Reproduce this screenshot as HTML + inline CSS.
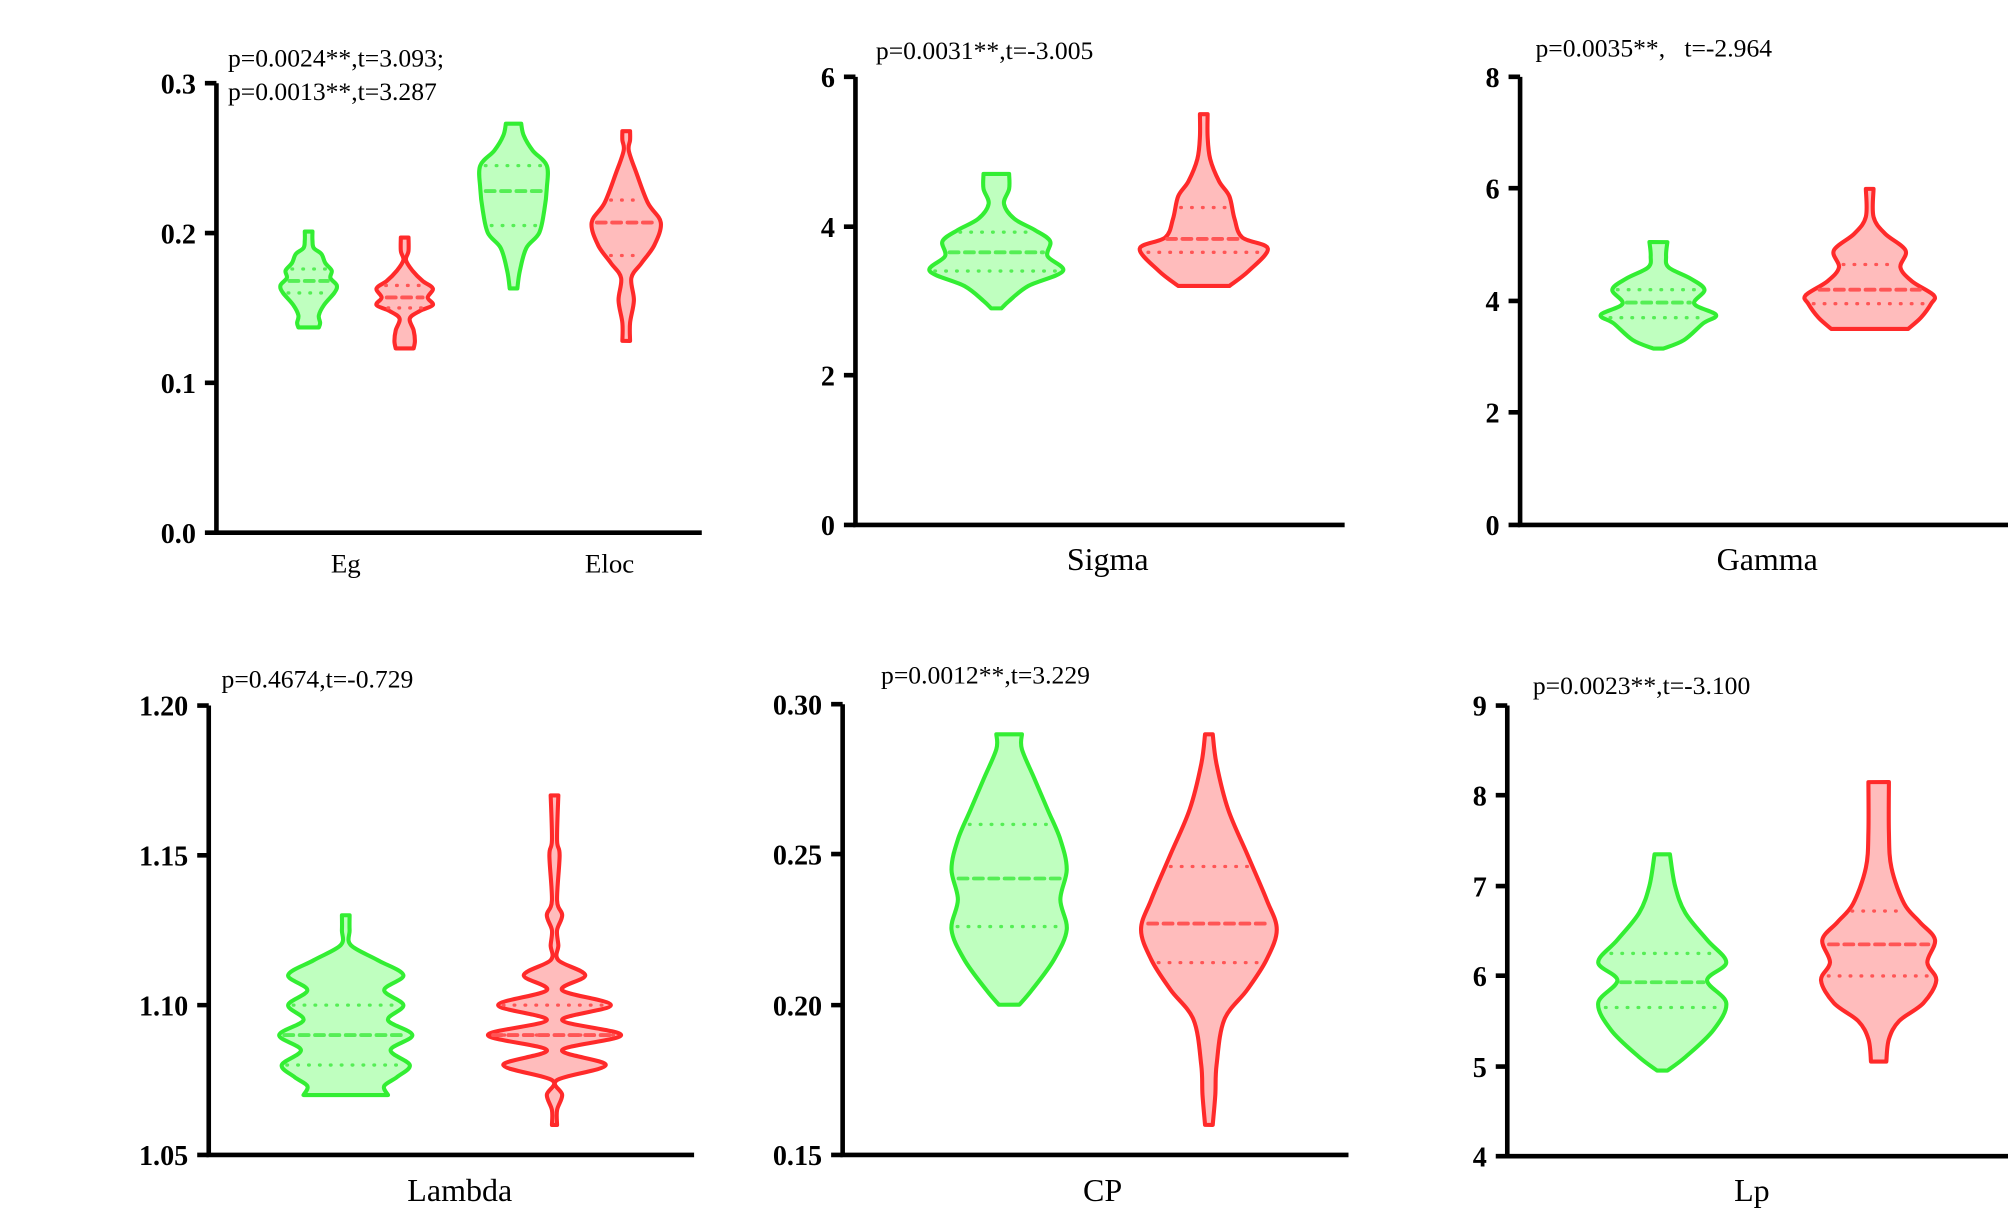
<!DOCTYPE html>
<html><head><meta charset="utf-8"><style>
html,body{margin:0;padding:0;background:#fff;}
svg{display:block;}
text{font-family:"Liberation Serif",serif;fill:#000;}
.tk{font-weight:bold;font-size:22px;}
.an{font-size:20px;}
.cat{font-size:25px;}
</style></head><body>
<svg id="s" width="2008" height="1210" viewBox="0 0 1568 945" preserveAspectRatio="none" xmlns="http://www.w3.org/2000/svg">
<g stroke="#000" stroke-width="3.6" fill="none">
<path d="M169 65 V416 H548"/><path d="M160 65H169M160 182H169M160 299H169M160 416H169"/>
<path d="M668 60 V410 H1050"/><path d="M659 60H668M659 177H668M659 293H668M659 410H668"/>
<path d="M1187 60 V410 H1568"/><path d="M1178 60H1187M1178 147H1187M1178 235H1187M1178 322H1187M1178 410H1187"/>
<path d="M163 551 V902 H542"/><path d="M154 551H163M154 668H163M154 785H163M154 902H163"/>
<path d="M658 550 V902 H1053"/><path d="M649 550H658M649 667H658M649 785H658M649 902H658"/>
<path d="M1177 551 V903 H1568"/><path d="M1168 551H1177M1168 621H1177M1168 692H1177M1168 762H1177M1168 833H1177M1168 903H1177"/>
</g>
<g class="tk" text-anchor="end">
<text x="153" y="73">0.3</text><text x="153" y="190">0.2</text><text x="153" y="307">0.1</text><text x="153" y="424">0.0</text>
<text x="652" y="68">6</text><text x="652" y="185">4</text><text x="652" y="301">2</text><text x="652" y="418">0</text>
<text x="1171" y="68">8</text><text x="1171" y="155">6</text><text x="1171" y="243">4</text><text x="1171" y="330">2</text><text x="1171" y="418">0</text>
<text x="147" y="559">1.20</text><text x="147" y="676">1.15</text><text x="147" y="793">1.10</text><text x="147" y="910">1.05</text>
<text x="642" y="558">0.30</text><text x="642" y="675">0.25</text><text x="642" y="793">0.20</text><text x="642" y="910">0.15</text>
<text x="1161" y="559">9</text><text x="1161" y="629">8</text><text x="1161" y="700">7</text><text x="1161" y="770">6</text><text x="1161" y="841">5</text><text x="1161" y="911">4</text>
</g>
<g class="an">
<text x="178" y="52">p=0.0024**,t=3.093;</text><text x="178" y="78">p=0.0013**,t=3.287</text>
<text x="684" y="46">p=0.0031**,t=-3.005</text>
<text x="1199" y="44" xml:space="preserve">p=0.0035**,   t=-2.964</text>
<text x="173" y="537">p=0.4674,t=-0.729</text>
<text x="688" y="534">p=0.0012**,t=3.229</text>
<text x="1197" y="542">p=0.0023**,t=-3.100</text>
</g>
<g class="cat" text-anchor="middle">
<text x="270" y="447" style="font-size:21px">Eg</text><text x="476" y="447" style="font-size:21px">Eloc</text>
<text x="865" y="445">Sigma</text><text x="1380" y="445">Gamma</text>
<text x="359" y="938">Lambda</text><text x="861" y="938">CP</text><text x="1368" y="938">Lp</text>
</g>
<g id="v"></g>
</svg>
<script>
var G={s:"#33ee33",f:"#bfffbf",l:"#55ee55"},R={s:"#ff2a2a",f:"#ffbcbc",l:"#ff5555"};
function V(cx,y0,y1,v0,v1,c,prof,q){
 var Y=function(v){return y0-(v-v0)/(v1-v0)*(y0-y1);};
 var pts=prof.map(function(p){return [Y(p[0]),p[1]];});
 function sm(side){var a=[];for(var i=0;i<pts.length;i++){a.push([cx+side*pts[i][1],pts[i][0]]);}return a;}
 function cr(a){var d="";for(var i=0;i<a.length-1;i++){var p0=a[i-1]||a[i],p1=a[i],p2=a[i+1],p3=a[i+2]||a[i+1];
  var c1=[p1[0]+(p2[0]-p0[0])/6,p1[1]+(p2[1]-p0[1])/6],c2=[p2[0]-(p3[0]-p1[0])/6,p2[1]-(p3[1]-p1[1])/6];
  d+=" C"+c1[0].toFixed(1)+" "+c1[1].toFixed(1)+" "+c2[0].toFixed(1)+" "+c2[1].toFixed(1)+" "+p2[0].toFixed(1)+" "+p2[1].toFixed(1);}return d;}
 var r=sm(1),l=sm(-1).reverse();
 var d="M"+r[0][0]+" "+r[0][1]+cr(r)+" L"+l[0][0]+" "+l[0][1]+cr(l)+" Z";
 function hw(v){for(var i=0;i<prof.length-1;i++){if(v>=prof[i][0]&&v<=prof[i+1][0]){var t=(v-prof[i][0])/(prof[i+1][0]-prof[i][0]);return prof[i][1]+t*(prof[i+1][1]-prof[i][1]);}}return 5;}
 var s='<path d="'+d+'" fill="'+c.f+'" stroke="'+c.s+'" stroke-width="3.2" stroke-linejoin="round"/>';
 q.forEach(function(v,i){var w=Math.max(hw(v)-4,2),y=Y(v);
  s+='<line x1="'+(cx-w)+'" x2="'+(cx+w)+'" y1="'+y+'" y2="'+y+'" stroke="'+c.l+'" stroke-width="'+(i==1?3:2.6)+'" stroke-dasharray="'+(i==1?'7 5':'0.5 8')+'" stroke-linecap="round"/>';});
 return s;}
var h="";
h+=V(241,416,65,0,0.3,G,[[0.137,8],[0.140,9],[0.145,8],[0.152,12],[0.160,20],[0.165,22],[0.170,17],[0.175,18],[0.180,13],[0.186,10],[0.190,4],[0.195,3],[0.201,3]],[0.16,0.168,0.176]);
h+=V(316,416,65,0,0.3,R,[[0.123,7],[0.128,8],[0.135,7],[0.143,4],[0.148,12],[0.152,22],[0.157,18],[0.163,22],[0.168,14],[0.175,6],[0.182,1],[0.188,3],[0.197,3]],[0.150,0.157,0.165]);
h+=V(401,416,65,0,0.3,G,[[0.163,3],[0.175,5],[0.19,10],[0.2,20],[0.215,24],[0.23,26],[0.245,26],[0.255,15],[0.265,8],[0.273,6]],[0.205,0.228,0.245]);
h+=V(489,416,65,0,0.3,R,[[0.128,3],[0.14,3],[0.155,6],[0.17,4],[0.18,12],[0.192,22],[0.207,27],[0.22,17],[0.24,8],[0.255,2],[0.262,3],[0.268,3]],[0.185,0.207,0.222]);
h+=V(778,410,60,0,6,G,[[2.9,4],[3.0,10],[3.2,25],[3.4,52],[3.6,40],[3.8,42],[3.95,30],[4.1,14],[4.3,6],[4.5,10],[4.7,10]],[3.4,3.65,3.92]);
h+=V(940,410,60,0,6,R,[[3.2,20],[3.4,35],[3.7,50],[3.85,30],[4.1,24],[4.4,20],[4.6,12],[4.9,5],[5.2,3],[5.5,3]],[3.65,3.83,4.25]);
h+=V(1295,410,60,0,8,G,[[3.15,4],[3.3,20],[3.6,35],[3.75,45],[3.95,28],[4.2,36],[4.4,25],[4.6,8],[4.8,6],[5.05,7]],[3.7,3.97,4.2]);
h+=V(1460,410,60,0,8,R,[[3.5,30],[3.7,40],[3.95,48],[4.1,50],[4.35,33],[4.6,24],[4.9,28],[5.2,12],[5.5,3],[6.0,3]],[3.95,4.2,4.65]);
h+=V(270,902,551,1.05,1.20,G,[[1.07,33],[1.073,30],[1.076,40],[1.080,50],[1.085,35],[1.090,52],[1.095,33],[1.100,45],[1.105,30],[1.110,45],[1.115,25],[1.120,4],[1.125,3],[1.13,3]],[1.08,1.09,1.10]);
h+=V(433,902,551,1.05,1.20,R,[[1.06,2],[1.065,2],[1.07,6],[1.075,2],[1.08,40],[1.085,6],[1.09,52],[1.095,6],[1.10,44],[1.105,6],[1.11,24],[1.115,3],[1.12,3],[1.125,2],[1.13,6],[1.135,2],[1.15,4],[1.155,2],[1.17,3]],[1.09,1.09,1.10]);
h+=V(788,902,550,0.15,0.30,G,[[0.2,8],[0.205,18],[0.215,35],[0.225,45],[0.235,40],[0.245,45],[0.255,40],[0.265,30],[0.275,20],[0.285,10],[0.29,10]],[0.226,0.242,0.26]);
h+=V(944,902,550,0.15,0.30,R,[[0.16,3],[0.17,5],[0.18,6],[0.195,12],[0.205,30],[0.215,45],[0.225,53],[0.235,45],[0.25,30],[0.265,15],[0.28,6],[0.29,3]],[0.214,0.227,0.246]);
h+=V(1298,903,551,4,9,G,[[4.95,4],[5.1,18],[5.4,40],[5.7,50],[5.95,35],[6.15,50],[6.4,35],[6.7,18],[7.0,10],[7.35,6]],[5.65,5.93,6.25]);
h+=V(1467,903,551,4,9,R,[[5.05,6],[5.3,8],[5.5,16],[5.7,35],[5.95,45],[6.15,38],[6.4,44],[6.6,32],[6.8,20],[7.2,10],[7.6,8],[8.15,8]],[6.0,6.35,6.72]);
document.getElementById("v").innerHTML=h;
</script>
</body></html>
